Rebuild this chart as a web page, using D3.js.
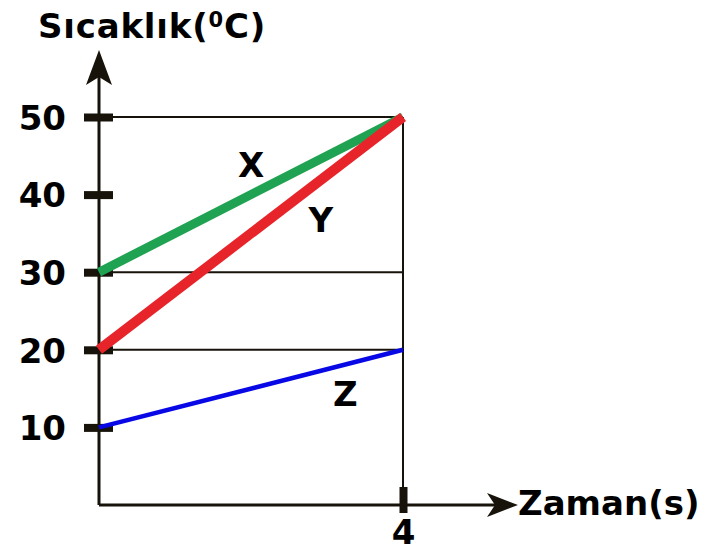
<!DOCTYPE html>
<html lang="en">
<head>
<meta charset="utf-8">
<title>Sıcaklık - Zaman</title>
<script src="https://d3js.org/d3.v7.min.js"></script>
<style>
  body { margin: 0; background: #fff; }
  text { font-family: "DejaVu Sans", Verdana, sans-serif; font-weight: bold; fill: #000; }
</style>
</head>
<body>
<script>
// data
const times = [0, 4];
const xVals = [30, 50];
const yVals = [20, 50];
const zVals = [10, 20];
const seriesNames = ["X", "Y", "Z"];
const yTicks = [10, 20, 30, 40, 50];
const xTicks = [4];
const gridValues = [20, 30, 50];
// where the series letters sit, in data units
const labelT = [2.0, 2.92, 3.24];
const labelV = [43.8, 36.7, 14.3];

const W = 710, H = 551;
const svg = d3.select("body").append("svg").attr("width", W).attr("height", H);

const x = d3.scaleLinear().domain([0, 4]).range([99, 403]);
const y = d3.scaleLinear().domain([0, 50]).range([505, 117]);
const ink = "#17130a";

// grid lines to the point t=4
svg.append("g").selectAll("line").data(gridValues).join("line")
  .attr("x1", x(0)).attr("x2", x(4))
  .attr("y1", d => y(d)).attr("y2", d => y(d))
  .attr("stroke", ink).attr("stroke-width", 2);
svg.append("line")
  .attr("x1", x(4)).attr("x2", x(4))
  .attr("y1", y(50)).attr("y2", y(0))
  .attr("stroke", ink).attr("stroke-width", 2);

// axes lines + arrows
svg.append("line").attr("x1", x(0)).attr("x2", x(0)).attr("y1", y(0)).attr("y2", 70)
  .attr("stroke", ink).attr("stroke-width", 3);
svg.append("line").attr("x1", x(0)).attr("x2", 500).attr("y1", y(0)).attr("y2", y(0))
  .attr("stroke", ink).attr("stroke-width", 3);
svg.append("path")
  .attr("d", `M${x(0)},50 L${x(0) + 13},85 L${x(0)},77 L${x(0) - 13},85 Z`)
  .attr("fill", ink);
svg.append("path")
  .attr("d", `M518,${y(0)} L487,${y(0) - 12} L495,${y(0)} L487,${y(0) + 12} Z`)
  .attr("fill", ink);

// y axis
const gy = svg.append("g").attr("transform", `translate(${x(0)},0)`)
  .call(d3.axisLeft(y).tickValues(yTicks).tickSize(0).tickPadding(33));
gy.select(".domain").remove();
gy.selectAll(".tick line").attr("x1", -15).attr("x2", 14)
  .attr("stroke", ink).attr("stroke-width", 8);
gy.selectAll(".tick text").attr("font-size", 34).attr("dy", "0.36em");

// x axis
const gx = svg.append("g").attr("transform", `translate(0,${y(0)})`)
  .call(d3.axisBottom(x).tickValues(xTicks).tickFormat(d3.format("d")).tickSize(0).tickPadding(15));
gx.select(".domain").remove();
gx.selectAll(".tick line").attr("y1", -18).attr("y2", 8)
  .attr("stroke", ink).attr("stroke-width", 8);
gx.selectAll(".tick text").attr("font-size", 34);

// series
const series = [
  { name: seriesNames[0], vals: xVals, color: "#1fa251", w: 9 },
  { name: seriesNames[1], vals: yVals, color: "#e8242b", w: 10 },
  { name: seriesNames[2], vals: zVals, color: "#0808e6", w: 4.5 }
];
const line = d3.line().x((d, i) => x(times[i])).y(d => y(d));
svg.append("g").selectAll("path").data(series).join("path")
  .attr("d", d => line(d.vals))
  .attr("fill", "none")
  .attr("stroke", d => d.color)
  .attr("stroke-width", d => d.w);

svg.append("g").selectAll("text").data(series).join("text")
  .attr("x", (d, i) => x(labelT[i]))
  .attr("y", (d, i) => y(labelV[i]))
  .attr("text-anchor", "middle")
  .attr("dy", "0.36em")
  .attr("font-size", 34)
  .text(d => d.name);

// axis titles
const title = svg.append("text").attr("x", 38).attr("y", 38).attr("font-size", 34)
  .attr("letter-spacing", 0.8);
title.append("tspan").text("Sıcaklık(");
title.append("tspan").attr("font-size", 21).attr("dy", -11).text("0");
title.append("tspan").attr("dy", 11).text("C)");

svg.append("text").attr("x", 518).attr("y", 515).attr("font-size", 34).text("Zaman(s)");
</script>
</body>
</html>
